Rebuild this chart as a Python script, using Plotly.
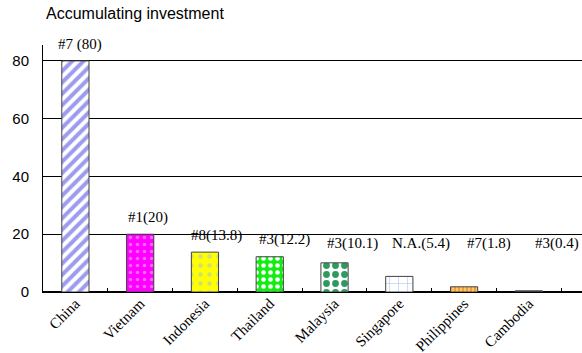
import plotly.graph_objects as go

countries = ["China", "Vietnam", "Indonesia", "Thailand", "Malaysia", "Singapore", "Philippines", "Cambodia"]
investment = [80, 20, 13.8, 12.2, 10.1, 5.4, 1.8, 0.4]
labels = ["#7 (80)", "#1(20)", "#8(13.8)", "#3(12.2)", "#3(10.1)", "N.A.(5.4)", "#7(1.8)", "#3(0.4)"]
y_ticks = [0, 20, 40, 60, 80]

pat_shape = ["/", ".", ".", ".", ".", "+", "|", ""]
pat_bg = ["#ffffff", "#ff00ff", "#ffff00", "#11ee11", "#ffffff", "#ffffff", "#f0a030", "#2c2c5c"]
pat_fg = ["#9c9cee", "#ff66ff", "#d0e070", "#ffffff", "#2e9b5e", "#a8bff0", "#ffd080", "#2c2c5c"]
pat_size = [8, 7, 9, 7, 9, 9, 4, 8]
pat_sol = [0.5, 0.2, 0.2, 0.35, 0.45, 0.12, 0.4, 0.3]

fig = go.Figure()
for i, c in enumerate(countries):
    fig.add_trace(go.Bar(
        x=[c], y=[investment[i]], width=0.42,
        marker=dict(
            color=pat_bg[i],
            line=dict(color="#404040", width=1),
            pattern=dict(shape=pat_shape[i], fgcolor=pat_fg[i], fgopacity=1,
                         size=pat_size[i], solidity=pat_sol[i], fillmode="overlay"),
        ),
        showlegend=False,
    ))

for i, (c, v, t) in enumerate(zip(countries, investment, labels)):
    fig.add_annotation(x=c, y=max(v, 11) + 2.2, text=t, showarrow=False,
                       xanchor="center", yanchor="bottom", xshift=5 + 3.3 * i,
                       font=dict(family="Liberation Serif", size=15, color="#000"))

fig.update_layout(
    width=582, height=353,
    barmode="overlay",
    title=dict(text="Accumulating investment", x=0, xanchor="left", xref="paper",
               y=1 - 8 / 353, yanchor="top", yref="container", pad=dict(l=3),
               font=dict(family="Liberation Sans", size=16, color="#000")),
    margin=dict(l=43, r=0, t=45, b=61, autoexpand=False),
    paper_bgcolor="white", plot_bgcolor="white",
    xaxis=dict(
        range=[-0.5, 7.82],
        showline=True, linecolor="black", linewidth=1,
        ticks="inside", tickson="boundaries", ticklen=4, tickcolor="black",
        tickangle=-45, ticklabelstandoff=-4,
        tickfont=dict(family="Liberation Serif", size=15, color="#000"),
        showgrid=False,
    ),
    yaxis=dict(
        range=[0, 85.5],
        tickvals=y_ticks,
        showline=True, linecolor="black", linewidth=1,
        showgrid=True, gridcolor="black", gridwidth=1,
        zeroline=True, zerolinecolor="black",
        ticks="", ticklabelstandoff=10,
        tickfont=dict(family="Liberation Sans", size=15, color="#000"),
    ),
)

fig.write_html("out.html", config={"displayModeBar": False},
               post_script="document.body.style.margin='0';")
